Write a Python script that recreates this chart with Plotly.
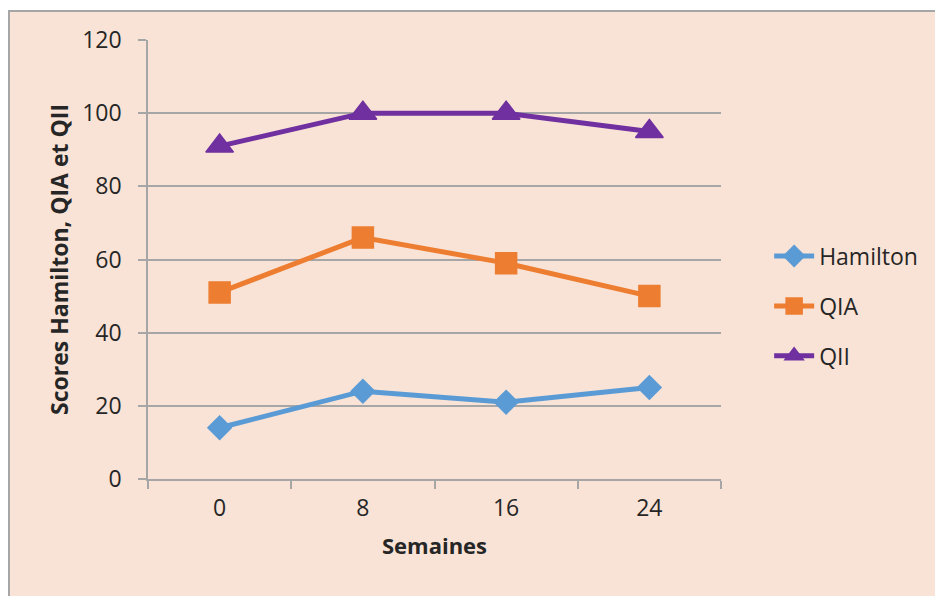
import plotly.graph_objects as go

# Weeks of follow-up and the three score series
semaines = ["0", "8", "16", "24"]
hamilton = [14, 24, 21, 25]
qia = [51, 66, 59, 50]
qii = [91, 100, 100, 95]

y_ticks = [0, 20, 40, 60, 80, 100, 120]

BG = "#F9E3D6"
GRID = "#A6A6A6"
TXT = "#262626"
FONT = "Open Sans"

series = [
    ("Hamilton", hamilton, "#5B9BD5", "diamond", 18),
    ("QIA", qia, "#ED7D31", "square", 21),
    ("QII", qii, "#7030A0", "triangle-up", 24),
]

fig = go.Figure()
for i, (name, vals, color, symbol, size) in enumerate(series):
    fig.add_trace(go.Scatter(
        x=semaines, y=vals, name=name, mode="lines+markers",
        legendgroup=f"g{i}",
        line=dict(color=color, width=5),
        marker=dict(symbol=symbol, size=size, color=color,
                    line=dict(color=color, width=1.5)),
    ))

fig.update_layout(
    width=935, height=596,
    margin=dict(l=148, r=214, t=40, b=117),
    paper_bgcolor="white",
    plot_bgcolor="rgba(0,0,0,0)",
    font=dict(family=FONT, size=23, color=TXT),
    showlegend=True,
    legend=dict(
        x=1.084, y=0.394, xanchor="left", yanchor="middle",
        bgcolor="rgba(0,0,0,0)", tracegroupgap=17,
        font=dict(family=FONT, size=23, color=TXT),
        itemwidth=40,
    ),
    shapes=[dict(
        type="rect", xref="paper", yref="paper", layer="below",
        x0=(9 - 148) / 573, x1=(960 - 148) / 573,
        y0=(479 - 620) / 439, y1=(479 - 11) / 439,
        fillcolor=BG, line=dict(color=GRID, width=2),
    )],
)

fig.update_xaxes(
    type="category", range=[-0.5, 3.5],
    showgrid=False, showline=True, linecolor=GRID, linewidth=1.5,
    ticks="outside", tickson="boundaries", ticklen=8, tickcolor=GRID,
    tickwidth=1.5, ticklabelstandoff=8,
    title=dict(text="<b>Semaines</b>", font=dict(family=FONT, size=22, color=TXT),
               standoff=16),
)
fig.update_yaxes(
    range=[0, 120], tickvals=y_ticks,
    showgrid=True, gridcolor=GRID, gridwidth=1.5,
    zeroline=False,
    showline=True, linecolor=GRID, linewidth=1.5,
    ticks="outside", ticklen=8, tickcolor=GRID, tickwidth=1.5,
    ticklabelstandoff=12,
    title=dict(text="<b>Scores Hamilton, QIA et QII</b>",
               font=dict(family=FONT, size=23, color=TXT), standoff=7),
)

fig.write_html("out.html")
